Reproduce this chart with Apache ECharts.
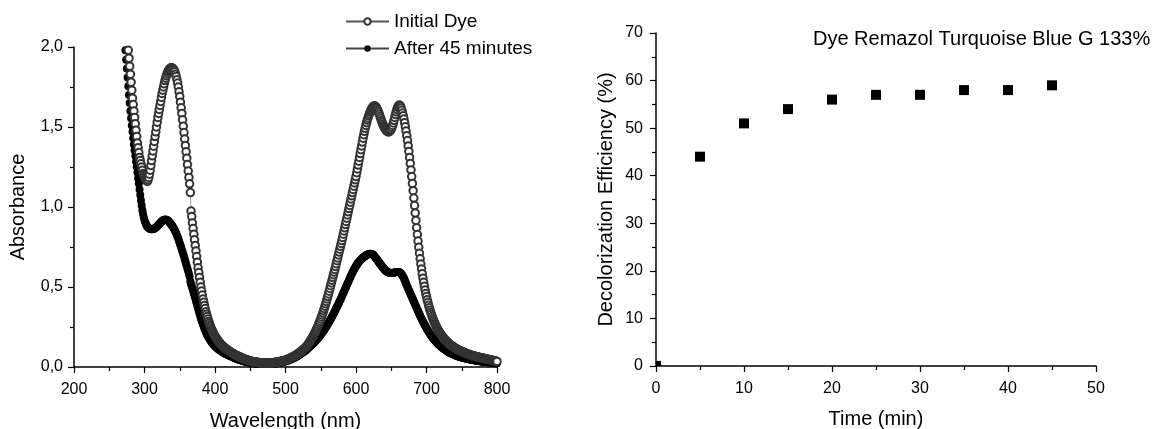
<!DOCTYPE html>
<html>
<head>
<meta charset="utf-8">
<title>Dye decolorization</title>
<script src="https://cdn.jsdelivr.net/npm/echarts@6/dist/echarts.min.js"></script>
<style>
  html, body { margin: 0; padding: 0; background: #fff; }
  #chart { width: 1167px; height: 429px; }
</style>
</head>
<body>
<div id="chart"></div>
<script>
// absorbance spectra, one reading per nm
const initialStart = 276
const initialDye = [
  2.03,1.98,1.93,1.88,1.83,1.78,1.73,1.68,1.64,1.60,
  1.56,1.52,1.48,1.44,1.40,1.37,1.34,1.31,1.29,1.27,
  1.25,1.23,1.21,1.20,1.19,1.18,1.17,1.165,1.16,1.17,
  1.185,1.205,1.23,1.26,1.29,1.32,1.35,1.38,1.41,1.44,
  1.47,1.50,1.53,1.56,1.585,1.61,1.635,1.66,1.685,1.71,
  1.73,1.75,1.77,1.79,1.805,1.82,1.833,1.845,1.853,1.86,
  1.865,1.868,1.87,1.869,1.866,1.862,1.855,1.845,1.83,1.815,
  1.795,1.775,1.75,1.72,1.69,1.655,1.62,1.585,1.545,1.505,
  1.465,1.425,1.385,1.345,1.305,1.265,1.225,1.185,1.145,1.09,
  0.975,0.94,0.90,0.865,0.83,0.795,0.76,0.725,0.69,0.655,
  0.62,0.59,0.56,0.53,0.50,0.475,0.45,0.425,0.405,0.385,
  0.365,0.345,0.33,0.315,0.30,0.285,0.272,0.26,0.248,0.237,
  0.227,0.218,0.209,0.201,0.193,0.186,0.179,0.172,0.166,0.16,
  0.154,0.149,0.144,0.139,0.135,0.131,0.127,0.123,0.119,0.115,
  0.112,0.109,0.106,0.103,0.10,0.097,0.094,0.091,0.088,0.085,
  0.083,0.08,0.078,0.075,0.073,0.071,0.069,0.067,0.065,0.063,
  0.061,0.059,0.057,0.055,0.053,0.051,0.05,0.048,0.046,0.045,
  0.043,0.042,0.04,0.039,0.038,0.037,0.035,0.034,0.033,0.032,
  0.031,0.031,0.03,0.029,0.029,0.028,0.028,0.027,0.027,0.026,
  0.026,0.026,0.025,0.025,0.025,0.025,0.025,0.025,0.025,0.025,
  0.025,0.025,0.026,0.026,0.026,0.026,0.027,0.027,0.028,0.028,
  0.029,0.03,0.03,0.031,0.032,0.033,0.034,0.035,0.036,0.037,
  0.038,0.039,0.04,0.041,0.042,0.044,0.046,0.048,0.05,0.052,
  0.054,0.056,0.058,0.06,0.062,0.065,0.067,0.07,0.072,0.075,
  0.078,0.081,0.084,0.087,0.09,0.093,0.097,0.101,0.104,0.108,
  0.112,0.116,0.121,0.125,0.13,0.136,0.142,0.148,0.155,0.162,
  0.169,0.176,0.184,0.192,0.2,0.209,0.217,0.226,0.235,0.245,
  0.255,0.266,0.277,0.288,0.3,0.313,0.325,0.338,0.351,0.365,
  0.38,0.395,0.41,0.425,0.44,0.457,0.474,0.491,0.508,0.525,
  0.542,0.559,0.576,0.593,0.61,0.628,0.646,0.664,0.682,0.70,
  0.718,0.736,0.754,0.772,0.79,0.81,0.83,0.85,0.87,0.89,
  0.91,0.93,0.95,0.97,0.99,1.01,1.03,1.05,1.07,1.09,
  1.11,1.13,1.15,1.17,1.19,1.214,1.238,1.262,1.286,1.31,
  1.334,1.358,1.382,1.406,1.43,1.452,1.473,1.492,1.51,1.527,
  1.543,1.557,1.57,1.582,1.593,1.603,1.612,1.62,1.626,1.63,
  1.632,1.631,1.627,1.621,1.613,1.603,1.592,1.58,1.567,1.554,
  1.541,1.529,1.518,1.508,1.499,1.491,1.484,1.478,1.474,1.471,
  1.47,1.471,1.474,1.479,1.486,1.497,1.51,1.525,1.542,1.56,
  1.578,1.595,1.61,1.622,1.631,1.636,1.636,1.63,1.619,1.604,
  1.588,1.57,1.55,1.527,1.502,1.475,1.446,1.415,1.382,1.347,
  1.31,1.272,1.232,1.19,1.147,1.102,1.056,1.009,0.962,0.916,
  0.871,0.828,0.787,0.748,0.711,0.676,0.643,0.612,0.583,0.555,
  0.529,0.505,0.482,0.46,0.44,0.421,0.403,0.386,0.37,0.355,
  0.341,0.328,0.315,0.303,0.292,0.281,0.271,0.261,0.252,0.243,
  0.235,0.227,0.22,0.213,0.206,0.2,0.194,0.188,0.182,0.177,
  0.172,0.167,0.162,0.158,0.154,0.15,0.146,0.142,0.138,0.135,
  0.132,0.129,0.126,0.123,0.12,0.117,0.114,0.112,0.109,0.107,
  0.105,0.103,0.101,0.099,0.097,0.095,0.093,0.091,0.089,0.087,
  0.085,0.084,0.082,0.08,0.079,0.077,0.076,0.074,0.073,0.071,
  0.07,0.069,0.068,0.066,0.065,0.064,0.063,0.062,0.061,0.06,
  0.059,0.058,0.057,0.056,0.055,0.054,0.053,0.052,0.051,0.05,
  0.049,0.048,0.047,0.046,0.045,0.044,0.043,0.042,0.041,0.04,
  0.039,0.038,0.037,0.036,0.035
]

const afterStart = 273
const after45 = [
  1.98,1.92,1.865,1.81,1.755,1.70,1.65,1.60,1.555,1.51,
  1.47,1.43,1.39,1.355,1.32,1.285,1.25,1.215,1.18,1.145,
  1.11,1.075,1.04,1.01,0.98,0.955,0.935,0.918,0.904,0.893,
  0.884,0.877,0.872,0.868,0.865,0.863,0.862,0.861,0.861,0.862,
  0.863,0.865,0.868,0.871,0.875,0.879,0.884,0.889,0.894,0.899,
  0.904,0.908,0.912,0.915,0.918,0.92,0.921,0.922,0.921,0.919,
  0.916,0.912,0.907,0.902,0.896,0.89,0.884,0.877,0.87,0.862,
  0.854,0.845,0.835,0.824,0.812,0.80,0.787,0.774,0.761,0.747,
  0.733,0.719,0.705,0.69,0.675,0.66,0.645,0.63,0.614,0.598,
  0.582,0.566,0.535,0.52,0.505,0.49,0.475,0.46,0.445,0.43,
  0.414,0.398,0.382,0.366,0.35,0.335,0.32,0.305,0.291,0.278,
  0.265,0.253,0.241,0.23,0.22,0.21,0.20,0.192,0.184,0.177,
  0.17,0.163,0.157,0.151,0.145,0.14,0.135,0.13,0.126,0.122,
  0.118,0.114,0.111,0.108,0.105,0.102,0.099,0.096,0.093,0.09,
  0.087,0.085,0.082,0.08,0.078,0.076,0.074,0.072,0.07,0.068,
  0.066,0.064,0.062,0.06,0.058,0.056,0.054,0.052,0.05,0.049,
  0.047,0.046,0.044,0.043,0.041,0.04,0.039,0.037,0.036,0.035,
  0.034,0.033,0.032,0.031,0.03,0.029,0.028,0.027,0.026,0.025,
  0.025,0.024,0.023,0.023,0.022,0.022,0.021,0.021,0.02,0.02,
  0.02,0.019,0.019,0.019,0.019,0.018,0.018,0.018,0.018,0.018,
  0.018,0.018,0.018,0.018,0.019,0.019,0.019,0.019,0.02,0.02,
  0.021,0.021,0.022,0.022,0.023,0.024,0.024,0.025,0.026,0.027,
  0.028,0.029,0.03,0.031,0.032,0.033,0.034,0.036,0.037,0.038,
  0.04,0.041,0.043,0.045,0.047,0.049,0.051,0.053,0.055,0.057,
  0.059,0.061,0.064,0.066,0.069,0.072,0.075,0.078,0.081,0.084,
  0.087,0.09,0.093,0.096,0.099,0.102,0.106,0.11,0.114,0.118,
  0.122,0.126,0.13,0.134,0.138,0.142,0.146,0.15,0.155,0.16,
  0.165,0.17,0.175,0.18,0.185,0.191,0.197,0.203,0.209,0.215,
  0.221,0.227,0.233,0.24,0.247,0.254,0.261,0.268,0.275,0.283,
  0.291,0.299,0.307,0.315,0.323,0.331,0.34,0.349,0.358,0.367,
  0.376,0.385,0.394,0.403,0.412,0.422,0.432,0.442,0.452,0.462,
  0.472,0.482,0.492,0.502,0.512,0.522,0.532,0.542,0.552,0.562,
  0.572,0.582,0.591,0.60,0.608,0.616,0.624,0.631,0.638,0.645,
  0.651,0.657,0.662,0.667,0.672,0.676,0.68,0.684,0.688,0.691,
  0.694,0.697,0.70,0.702,0.704,0.706,0.707,0.708,0.708,0.707,
  0.705,0.702,0.698,0.693,0.688,0.682,0.676,0.67,0.664,0.658,
  0.652,0.646,0.64,0.634,0.628,0.622,0.617,0.612,0.607,0.603,
  0.599,0.596,0.593,0.591,0.589,0.588,0.587,0.587,0.587,0.588,
  0.589,0.59,0.591,0.592,0.593,0.594,0.594,0.594,0.593,0.591,
  0.588,0.584,0.578,0.571,0.563,0.554,0.544,0.533,0.522,0.511,
  0.50,0.49,0.48,0.47,0.46,0.45,0.44,0.43,0.42,0.41,
  0.40,0.39,0.38,0.37,0.36,0.35,0.34,0.33,0.32,0.311,
  0.302,0.293,0.284,0.275,0.267,0.259,0.251,0.243,0.235,0.228,
  0.221,0.214,0.207,0.20,0.194,0.188,0.182,0.176,0.171,0.166,
  0.161,0.156,0.151,0.146,0.142,0.138,0.134,0.13,0.126,0.122,
  0.118,0.115,0.112,0.109,0.106,0.103,0.10,0.097,0.094,0.091,
  0.089,0.087,0.085,0.083,0.081,0.079,0.077,0.075,0.073,0.071,
  0.069,0.068,0.066,0.065,0.063,0.062,0.061,0.06,0.058,0.057,
  0.056,0.055,0.054,0.053,0.052,0.051,0.05,0.049,0.048,0.047,
  0.046,0.045,0.044,0.043,0.042,0.042,0.041,0.04,0.039,0.039,
  0.038,0.037,0.037,0.036,0.035,0.035,0.034,0.034,0.033,0.032,
  0.032,0.031,0.031,0.03,0.03,0.029,0.029,0.028,0.028,0.027,
  0.027,0.026,0.026,0.025,0.025,0.024,0.024,0.023
]

// decolorization over time
const timeMin = [0, 5, 10, 15, 20, 25, 30, 35, 40, 45]
const efficiency = [0, 44, 51, 54, 56, 57, 57, 58, 58, 59]

const font = 'Liberation Sans, Arial, sans-serif'

var axisStyle = function(extra) {
    var base = {
        nameLocation: 'middle',
        nameTextStyle: { fontSize: 20, color: '#000', fontFamily: font },
        axisLine: { show: true, lineStyle: { color: '#000', width: 1.5 } },
        axisTick: { show: true, length: 6, lineStyle: { color: '#000', width: 1.2 } },
        minorTick: { show: true, splitNumber: 2, length: 4, lineStyle: { color: '#000', width: 1.2 } },
        splitLine: { show: false },
        minorSplitLine: { show: false },
        axisLabel: { color: '#000', fontSize: 16, fontFamily: font, margin: 10 }
    }
    return Object.assign(base, extra)
}

var comma = function(v) {
    return v.toFixed(1).replace('.', ',')
}

var makeChart = function() {
    var myChart = echarts.init(document.getElementById('chart'))
    var option = {
        animation: false,
        backgroundColor: '#fff',
        title: {
            text: 'Dye Remazol Turquoise Blue G 133%',
            left: 813,
            top: 29,
            padding: 0,
            textStyle: { fontSize: 20, fontWeight: 'normal', color: '#000', fontFamily: font }
        },
        legend: {
            data: ['Initial Dye', 'After 45 minutes'],
            orient: 'vertical',
            left: 345,
            top: 12,
            padding: 0,
            itemWidth: 43,
            itemHeight: 8,
            itemGap: 8,
            textStyle: { fontSize: 19, color: '#000', fontFamily: font }
        },
        grid: [
            { left: 74, top: 47, width: 423, height: 320, outerBoundsMode: 'none' },
            { left: 656, top: 33, width: 440, height: 333, outerBoundsMode: 'none' }
        ],
        xAxis: [
            axisStyle({
                gridIndex: 0, type: 'value', min: 200, max: 800, interval: 100,
                name: 'Wavelength (nm)', nameGap: 44,
                axisLabel: { color: '#000', fontSize: 16, fontFamily: font, margin: 15 }
            }),
            axisStyle({
                gridIndex: 1, type: 'value', min: 0, max: 50, interval: 10,
                name: 'Time (min)', nameGap: 43,
                axisLabel: { color: '#000', fontSize: 16, fontFamily: font, margin: 15 }
            })
        ],
        yAxis: [
            axisStyle({
                gridIndex: 0, type: 'value', min: 0, max: 2, interval: 0.5,
                name: 'Absorbance', nameGap: 46,
                axisLabel: { color: '#000', fontSize: 16, fontFamily: font, margin: 11, formatter: comma }
            }),
            axisStyle({
                gridIndex: 1, type: 'value', min: 0, max: 70, interval: 10,
                name: 'Decolorization Efficiency (%)', nameGap: 40,
                axisLabel: { color: '#000', fontSize: 16, fontFamily: font, margin: 13 }
            })
        ],
        series: [
            {
                name: 'After 45 minutes',
                type: 'line',
                xAxisIndex: 0, yAxisIndex: 0,
                data: after45.map((v, i) => [afterStart + i, v]),
                symbol: 'circle',
                symbolSize: 8,
                color: '#000',
                itemStyle: { color: '#000' },
                lineStyle: { color: '#444', width: 0.6 }
            },
            {
                name: 'Initial Dye',
                type: 'line',
                xAxisIndex: 0, yAxisIndex: 0,
                data: initialDye.map((v, i) => [initialStart + i, v]),
                symbol: 'emptyCircle',
                symbolSize: 7.5,
                color: '#000',
                itemStyle: { color: '#333', borderWidth: 0.7 },
                lineStyle: { color: '#555', width: 0.6 }
            },
            {
                name: 'Efficiency',
                type: 'custom',
                xAxisIndex: 1, yAxisIndex: 1,
                data: timeMin.map((t, i) => [t, efficiency[i]]),
                encode: { x: 0, y: 1 },
                renderItem: function(params, api) {
                    var p = api.coord([api.value(0), api.value(1)])
                    var s = 10
                    var rect = echarts.graphic.clipRectByRect(
                        { x: p[0] - s / 2, y: p[1] - s / 2, width: s, height: s },
                        { x: params.coordSys.x, y: params.coordSys.y,
                          width: params.coordSys.width, height: params.coordSys.height }
                    )
                    return rect && { type: 'rect', shape: rect, style: { fill: '#000' } }
                }
            }
        ]
    }
    myChart.setOption(option)
}

makeChart()
</script>
</body>
</html>
